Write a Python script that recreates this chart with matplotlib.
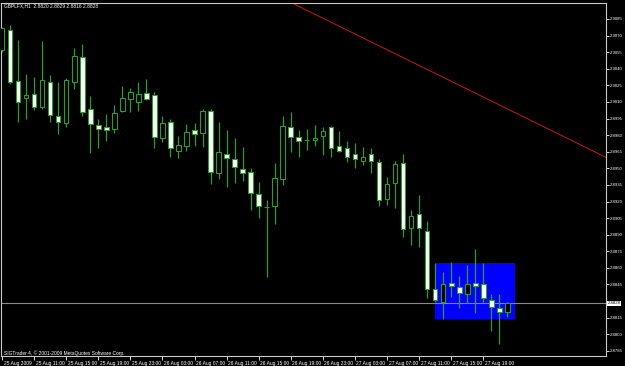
import matplotlib
matplotlib.use('Agg')
import numpy as np
import matplotlib.pyplot as plt
import matplotlib.transforms as mtransforms
from matplotlib.patches import Rectangle

# GBPLFX H1 bars, 25 Aug 07:00 .. 27 Aug 22:00
opens = [2.9057, 2.9075, 2.9029, 2.9014, 2.9017, 2.9005, 2.9028, 2.8997, 2.8991, 2.9028,
         2.9051, 2.9004, 2.8989, 2.8987, 2.8986, 2.9002, 2.9013, 2.9010, 2.9018, 2.9016,
         2.8977, 2.8992, 2.8966, 2.8970, 2.8985, 2.8982, 2.9002, 2.8946, 2.8963, 2.8958,
         2.8949, 2.8947, 2.8927, 2.8915, 2.8916, 2.8940, 2.8987, 2.8978, 2.8976, 2.8976,
         2.8979, 2.8987, 2.8970, 2.8968, 2.8963, 2.8957, 2.8963, 2.8956, 2.8922, 2.8937,
         2.8955, 2.8896, 2.8909, 2.8893, 2.8841, 2.8829, 2.8846, 2.8843, 2.8836, 2.8846,
         2.8845, 2.8831, 2.8824, 2.8820]
highs = [2.9078, 2.9080, 2.9066, 2.9035, 2.9033, 2.9065, 2.9034, 2.9028, 2.9032, 2.9059,
         2.9062, 2.9015, 2.8995, 2.8999, 2.9007, 2.9024, 2.9023, 2.9028, 2.9031, 2.9019,
         2.8997, 2.8995, 2.8979, 2.8990, 2.8991, 2.9004, 2.9004, 2.8992, 2.8985, 2.8977,
         2.8969, 2.8950, 2.8938, 2.8921, 2.8955, 2.8997, 2.9001, 2.8985, 2.8986, 2.8989,
         2.8987, 2.8988, 2.8984, 2.8975, 2.8973, 2.8969, 2.8968, 2.8958, 2.8942, 2.8957,
         2.8963, 2.8912, 2.8926, 2.8902, 2.8864, 2.8856, 2.8865, 2.8853, 2.8863, 2.8877,
         2.8864, 2.8836, 2.8836, 2.8829]
lows = [2.9055, 2.9026, 2.8992, 2.8995, 2.9003, 2.9004, 2.8992, 2.8981, 2.8987, 2.9022,
        2.8997, 2.8964, 2.8968, 2.8975, 2.8982, 2.9001, 2.9001, 2.9002, 2.9012, 2.8968,
        2.8974, 2.8960, 2.8959, 2.8966, 2.8970, 2.8969, 2.8936, 2.8940, 2.8933, 2.8937,
        2.8939, 2.8912, 2.8905, 2.8852, 2.8900, 2.8935, 2.8965, 2.8960, 2.8967, 2.8970,
        2.8962, 2.8960, 2.8965, 2.8956, 2.8950, 2.8953, 2.8946, 2.8916, 2.8917, 2.8914,
        2.8888, 2.8881, 2.8879, 2.8833, 2.8829, 2.8814, 2.8834, 2.8824, 2.8828, 2.8819,
        2.8829, 2.8803, 2.8791, 2.8816]
closes = [2.9077, 2.9028, 2.9010, 2.9016, 2.9005, 2.9030, 2.8998, 2.8992, 2.9030, 2.9052,
          2.9001, 2.8990, 2.8986, 2.8985, 2.9000, 2.9014, 2.9019, 2.9017, 2.9013, 2.8978,
          2.8991, 2.8968, 2.8971, 2.8983, 2.8981, 2.9002, 2.8947, 2.8965, 2.8959, 2.8951,
          2.8946, 2.8928, 2.8916, 2.8915, 2.8941, 2.8988, 2.8978, 2.8975, 2.8976, 2.8977,
          2.8984, 2.8968, 2.8966, 2.8960, 2.8958, 2.8960, 2.8957, 2.8921, 2.8936, 2.8954,
          2.8895, 2.8907, 2.8896, 2.8841, 2.8831, 2.8845, 2.8844, 2.8837, 2.8845, 2.8844,
          2.8833, 2.8825, 2.8820, 2.8828]

time_labels = ['25 Aug 2009', '25 Aug 11:00', '25 Aug 15:00', '25 Aug 19:00', '25 Aug 23:00',
               '26 Aug 03:00', '26 Aug 07:00', '26 Aug 11:00', '26 Aug 15:00', '26 Aug 19:00',
               '26 Aug 23:00', '27 Aug 03:00', '27 Aug 07:00', '27 Aug 11:00', '27 Aug 15:00',
               '27 Aug 19:00']
label_step = 4

# drawn objects
box_bars = [54, 64]
box_prices = [2.8814, 2.8864]
trend_bars = [36, 75]
trend_prices = [2.9100, 2.8961]

plt.rcParams['font.family'] = ['Liberation Sans', 'DejaVu Sans']

green = '#2f9a2f'
fs = 3.5
fsy = 3.1

fig = plt.figure(figsize=(6.25, 3.66), dpi=100, facecolor='black')
ax = fig.add_axes([1/625, 10/366, 605/625, 353/366], facecolor='black')

o = np.array(opens)
h = np.array(highs)
l = np.array(lows)
c = np.array(closes)
idx = np.arange(len(o))
bear = c < o

ax.vlines(idx, l, h, color=green, lw=0.9, zorder=3)
ax.bar(idx, np.abs(c - o), bottom=np.minimum(o, c), width=0.58,
       color=np.where(bear, 'white', 'black'), edgecolor=green, linewidth=0.8, zorder=4)

ax.add_patch(Rectangle((box_bars[0], box_prices[0]), box_bars[1] - box_bars[0],
                       box_prices[1] - box_prices[0], fc='#0000ff', ec='none', zorder=1))
ax.axhline(c[-1], color='#8a8a8a', lw=0.8, zorder=2)
ax.axline((trend_bars[0], trend_prices[0]), (trend_bars[1], trend_prices[1]),
          color='#b01818', lw=0.8, zorder=2)

ax.set_xlim(-0.125, 75.3)
ax.set_ylim(2.878035, 2.909946)

# price axis
yt = [t for t in np.round(np.arange(2.8785, 2.90851, 0.0015), 4) if abs(t - 2.8830) > 1e-6]
ax.yaxis.tick_right()
ax.set_yticks(yt)
ax.set_yticklabels([f'{t:.4f}' for t in yt])
ax.tick_params(axis='y', colors='white', labelsize=fsy, length=2, width=0.6, pad=0.8)

# time axis
ax.set_xticks(np.arange(len(time_labels)) * label_step)
ax.set_xticklabels(time_labels, ha='left')
ax.tick_params(axis='x', colors='white', labelsize=fs, length=3, width=0.6, pad=0.8)
shift = mtransforms.ScaledTranslation(1.5/100, 0, fig.dpi_scale_trans)
for lbl in ax.get_xticklabels():
    lbl.set_transform(lbl.get_transform() + shift)

for s in ax.spines.values():
    s.set_color('#c8c8c8')
    s.set_linewidth(0.8)

# current price label
tr = mtransforms.blended_transform_factory(ax.transAxes, ax.transData)
ax.text(1.003, c[-1], f'{c[-1]:.4f}', transform=tr, ha='left', va='center',
        fontsize=fsy, color='black', bbox=dict(fc='white', ec='none', pad=0.4), clip_on=False)

fig.text(4/625, 1 - 6/366, f'GBPLFX,H1  {o[-1]:.4f} {h[-1]:.4f} {l[-1]:.4f} {c[-1]:.4f}',
         color='white', fontsize=fs, va='center')
fig.text(4/625, 1 - 353/366, 'SIGTrader 4, \u00a9 2001-2009 MetaQuotes Software Corp.',
         color='white', fontsize=fs, va='center')

fig.savefig('out.png', dpi=100, facecolor='black')
